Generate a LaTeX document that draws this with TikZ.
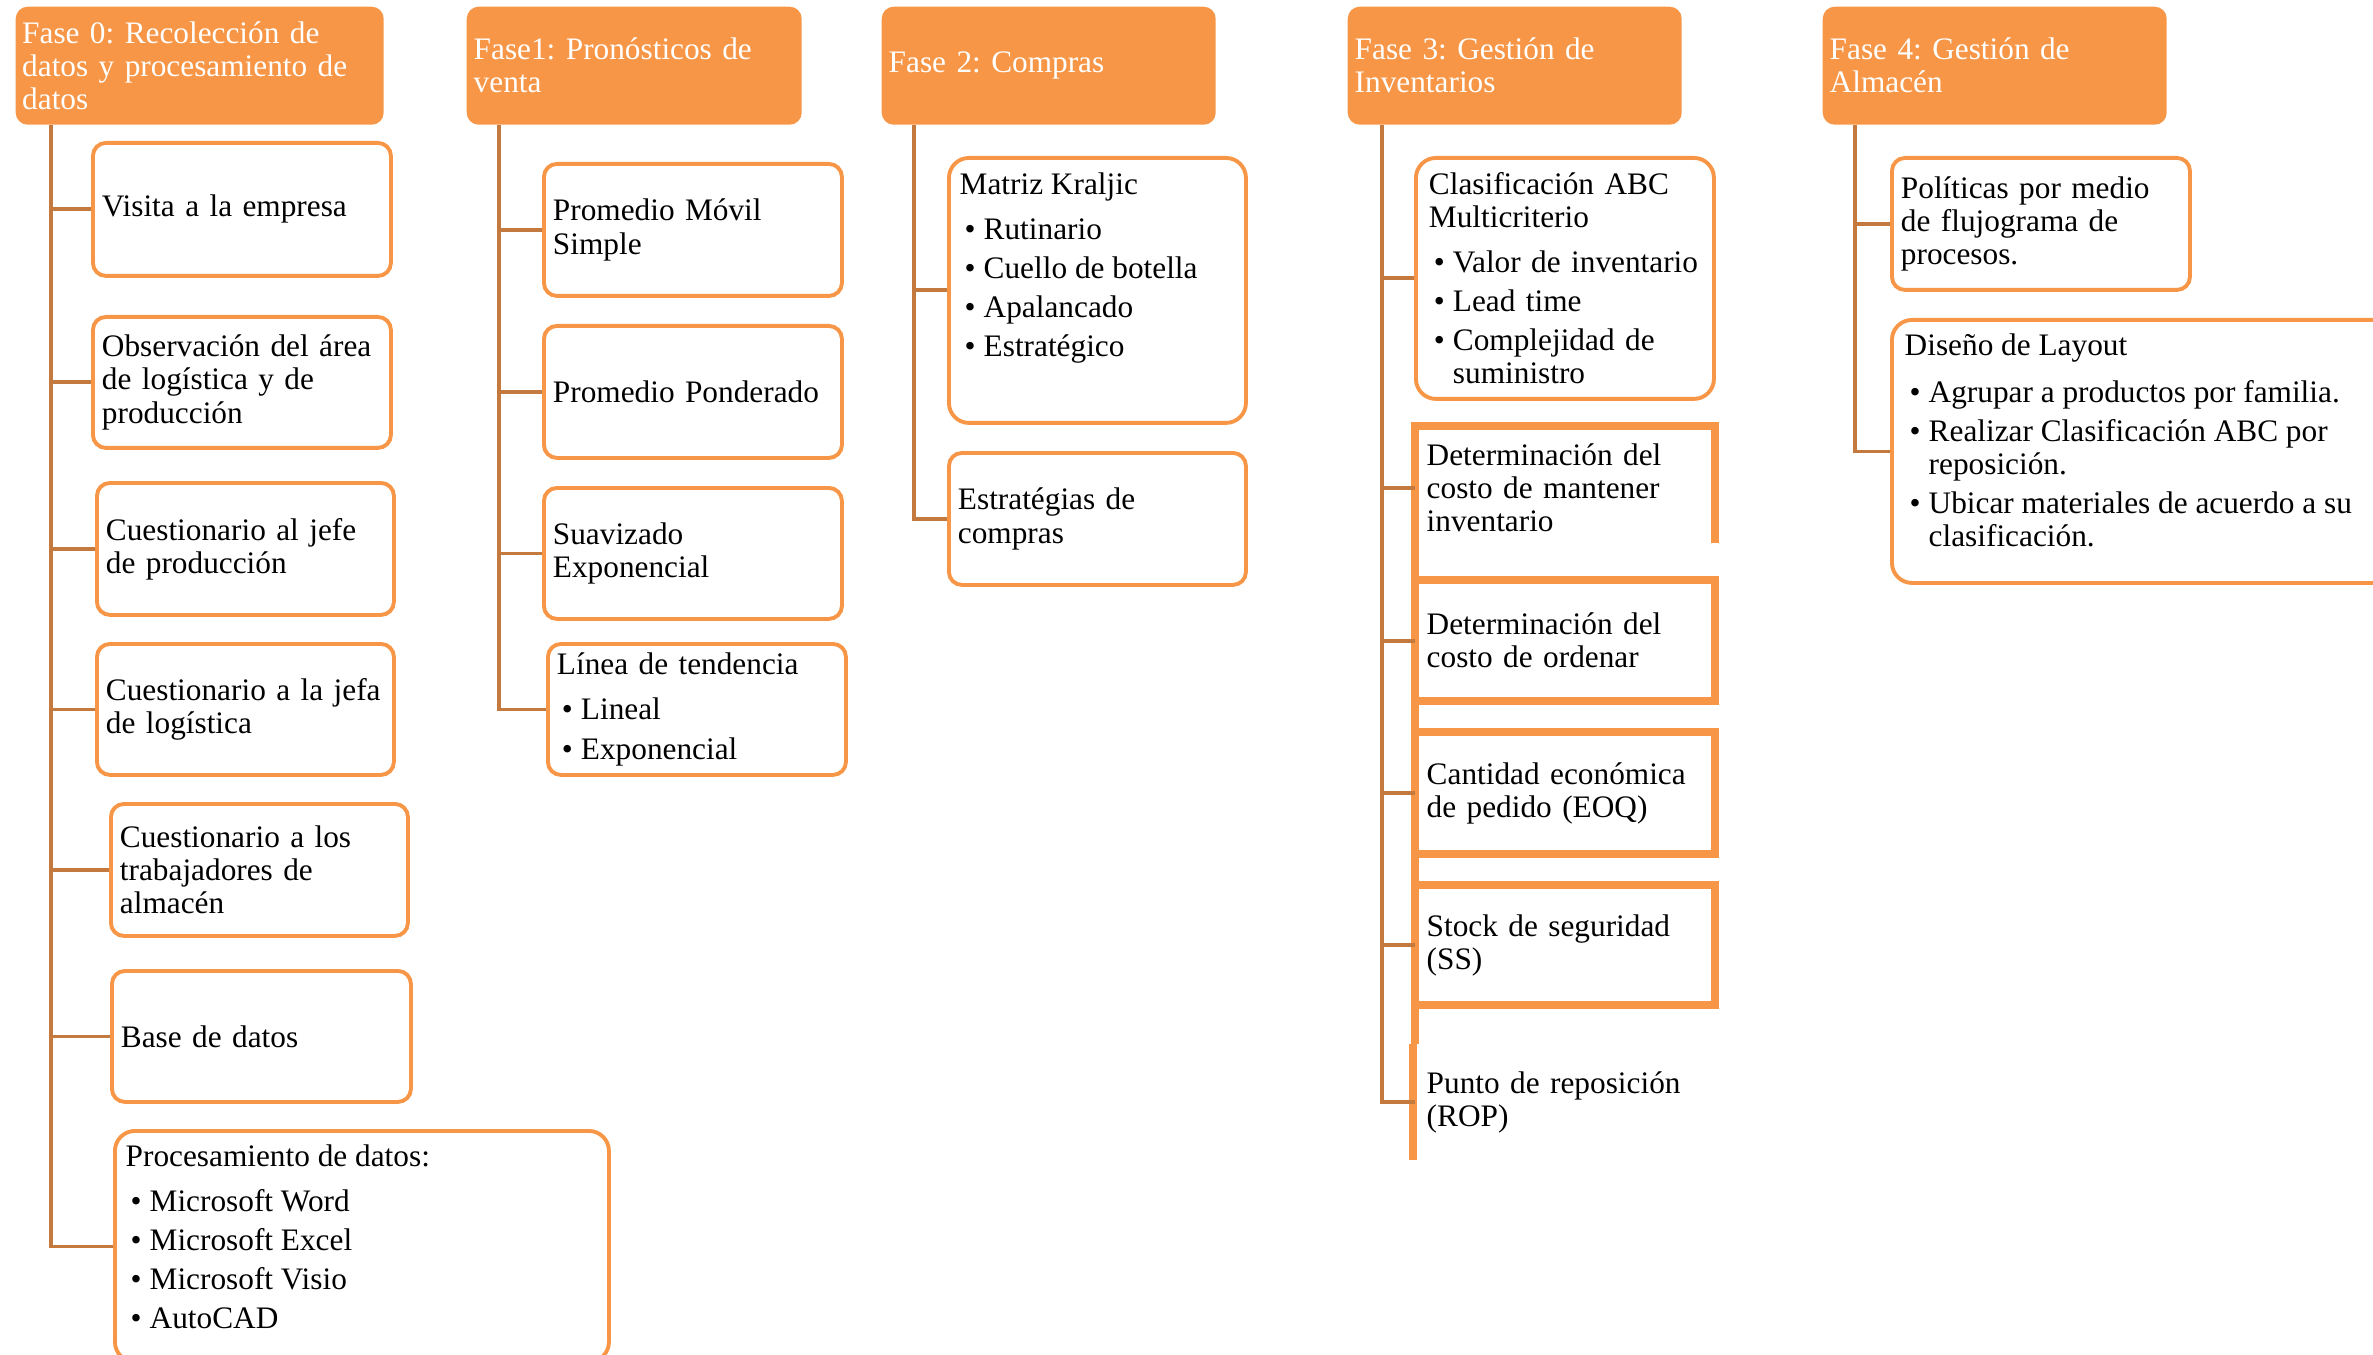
\documentclass[tikz,border=0pt]{standalone}
\usepackage{fontspec}
\setmainfont{Liberation Serif}
\usetikzlibrary{calc}
\frenchspacing
\definecolor{org}{RGB}{247,150,70}
\definecolor{lnk}{RGB}{196,121,62}
\newcommand\bu[1]{\hspace*{0.05cm}\makebox[0.19cm][l]{\textbullet}\mbox{#1}}
\newcommand\hg{\hspace*{0.24cm}}
\def\myinset{0.09cm}
\tikzset{
  ins/.code={\def\myinset{#1}},
  wh/.code 2 args={%
    \pgfmathsetlengthmacro\mymw{#1*0.01cm}%
    \pgfmathsetlengthmacro\mymh{#2*0.01cm}%
    \pgfmathsetlengthmacro\mytw{#1*0.01cm-2*\myinset}%
    \edef\mytmp{\noexpand\tikzset{minimum width=\mymw,minimum height=\mymh,text width=\mytw}}\mytmp},
  hdr/.style={fill=org, text=white, rounded corners=0.12cm, anchor=north west, align=left},
  bx/.style={draw=org, line width=1.1pt, fill=white, rounded corners=0.13cm, anchor=north west, align=left},
  big/.style={rounded corners=0.2cm},
  dbx/.style={anchor=north west, align=left},
  conn/.style={draw=lnk, line width=1.1pt},
  tb/.style={draw=org, line width=0.08cm, line join=miter},
}
\begin{document}
\begin{tikzpicture}[x=0.01cm,y=-0.01cm,
  every node/.style={font=\fontsize{8.9pt}{9.4pt}\selectfont\frenchspacing, inner sep=0pt}]
\useasboundingbox (0,0) rectangle (2373,1355);

% ---- Fase 0
\node[hdr,ins=0.065cm,wh={368}{118}] (h0) at (15,6) {Fase 0: Recolección de\\datos y procesamiento de\\datos};
\node[bx,wh={298}{133}] (v1) at (91,141) {Visita a la empresa};
\node[bx,wh={298}{131}] (v2) at (91,315) {\mbox{Observación del área}\\de logística y de\\producción};
\node[bx,wh={297}{132}] (v3) at (95,481) {Cuestionario al jefe\\de producción};
\node[bx,wh={297}{131}] (v4) at (95,642) {\mbox{Cuestionario a la jefa}\\de logística};
\node[bx,wh={297}{132}] (v5) at (109,802) {Cuestionario a los\\trabajadores de\\almacén};
\node[bx,wh={299}{131}] (v6) at (110,969) {Base de datos};
\node[bx,big,wh={494}{231}] (v7) at (113,1129) {};
\node[anchor=north west,align=left] (v7t) at (125,1144) {Procesamiento de datos:\\[0.12cm]\bu{Microsoft Word}\\[0.06cm]\bu{Microsoft Excel}\\[0.06cm]\bu{Microsoft Visio}\\[0.06cm]\bu{AutoCAD}};

% ---- Fase 1
\node[hdr,ins=0.07cm,wh={335}{118}] (h1) at (466,6) {Fase1: Pronósticos de\\venta};
\node[bx,wh={298}{132}] (p1) at (542,162) {Promedio Móvil\\Simple};
\node[bx,wh={298}{132}] (p2) at (542,324) {\mbox{Promedio Ponderado}};
\node[bx,wh={298}{131}] (p3) at (542,486) {Suavizado\\Exponencial};
\node[bx,wh={298}{131}] (p4) at (546,642) {Línea de tendencia\\[0.12cm]\bu{Lineal}\\[0.06cm]\bu{Exponencial}};

% ---- Fase 2
\node[hdr,ins=0.07cm,wh={334}{118}] (h2) at (881,6) {Fase 2: Compras};
\node[bx,big,wh={297}{265}] (k1) at (947,156) {};
\node[anchor=north west,align=left] (k1t) at (959,172) {Matriz Kraljic\\[0.12cm]\bu{Rutinario}\\[0.06cm]\bu{Cuello de botella}\\[0.06cm]\bu{Apalancado}\\[0.06cm]\bu{Estratégico}};
\node[bx,wh={297}{132}] (k2) at (947,451) {Estratégias de\\compras};

% ---- Fase 3
\node[hdr,ins=0.07cm,wh={334}{118}] (h3) at (1347,6) {Fase 3: Gestión de\\Inventarios};
\node[bx,big,ins=0.13cm,wh={298}{241}] (c1) at (1414,156) {Clasificación ABC\\Multicriterio\\[0.12cm]\bu{Valor de inventario}\\[0.06cm]\bu{Lead time}\\[0.06cm]\bu{Complejidad de}\\\hg suministro};
\node[dbx,ins=0.11cm,wh={299}{122}] (d1) at (1415,426) {Determinación del\\costo de mantener\\inventario};
\node[dbx,ins=0.11cm,wh={299}{120}] (d2) at (1415,580) {Determinación del\\costo de ordenar};
\node[dbx,ins=0.11cm,wh={299}{121}] (d3) at (1415,732) {\mbox{Cantidad económica}\\de pedido (EOQ)};
\node[dbx,ins=0.11cm,wh={299}{119}] (d4) at (1415,885) {Stock de seguridad\\(SS)};
\node[dbx,ins=0.11cm,wh={299}{115}] (pr) at (1415,1044) {\mbox{Punto de reposición}\\(ROP)};
\draw[tb] (pr.north west) -- (d1.north west) -- (d1.north east) -- ($(d1.south east)+(0,-6)$);
\foreach \n in {d2,d3,d4} \draw[tb] (\n.north west) -- (\n.north east) -- (\n.south east) -- (\n.south west);
\draw[tb] ($(pr.north west)+(-2,0)$) -- ($(pr.south west)+(-2,0)$);

% ---- Fase 4
\node[hdr,ins=0.07cm,wh={344}{118}] (h4) at (1822,6) {Fase 4: Gestión de\\Almacén};
\node[bx,wh={298}{132}] (a1) at (1890,156) {Políticas por medio\\de flujograma de\\procesos.};
\node[bx,big,wh={520}{263}] (a2) at (1890,318) {};
\node[anchor=north west,align=left] (a2t) at (1904,333) {Diseño de Layout\\[0.14cm]\bu{Agrupar a productos por familia.}\\[0.06cm]\bu{Realizar Clasificación ABC por}\\\hg reposición.\\[0.06cm]\bu{Ubicar materiales de acuerdo a su}\\\hg clasificación.};

% ---- connectors
\coordinate (t0) at ($(h0.south west)+(36,0)$);
\coordinate (t1) at ($(h1.south west)+(33,0)$);
\coordinate (t2) at ($(h2.south west)+(33,0)$);
\coordinate (t3) at ($(h3.south west)+(35,0)$);
\coordinate (t4) at ($(h4.south west)+(33,0)$);
\foreach \n in {v1,v2,v3,v4,v5,v6,v7} \draw[conn] (t0) |- (\n.west);
\foreach \n in {p1,p2,p3,p4} \draw[conn] (t1) |- (\n.west);
\foreach \n in {k1,k2} \draw[conn] (t2) |- (\n.west);
\foreach \n in {c1,d1,d2,d3,d4,pr} \draw[conn] (t3) |- (\n.west);
\foreach \n in {a1,a2} \draw[conn] (t4) |- (\n.west);
\end{tikzpicture}
\end{document}
